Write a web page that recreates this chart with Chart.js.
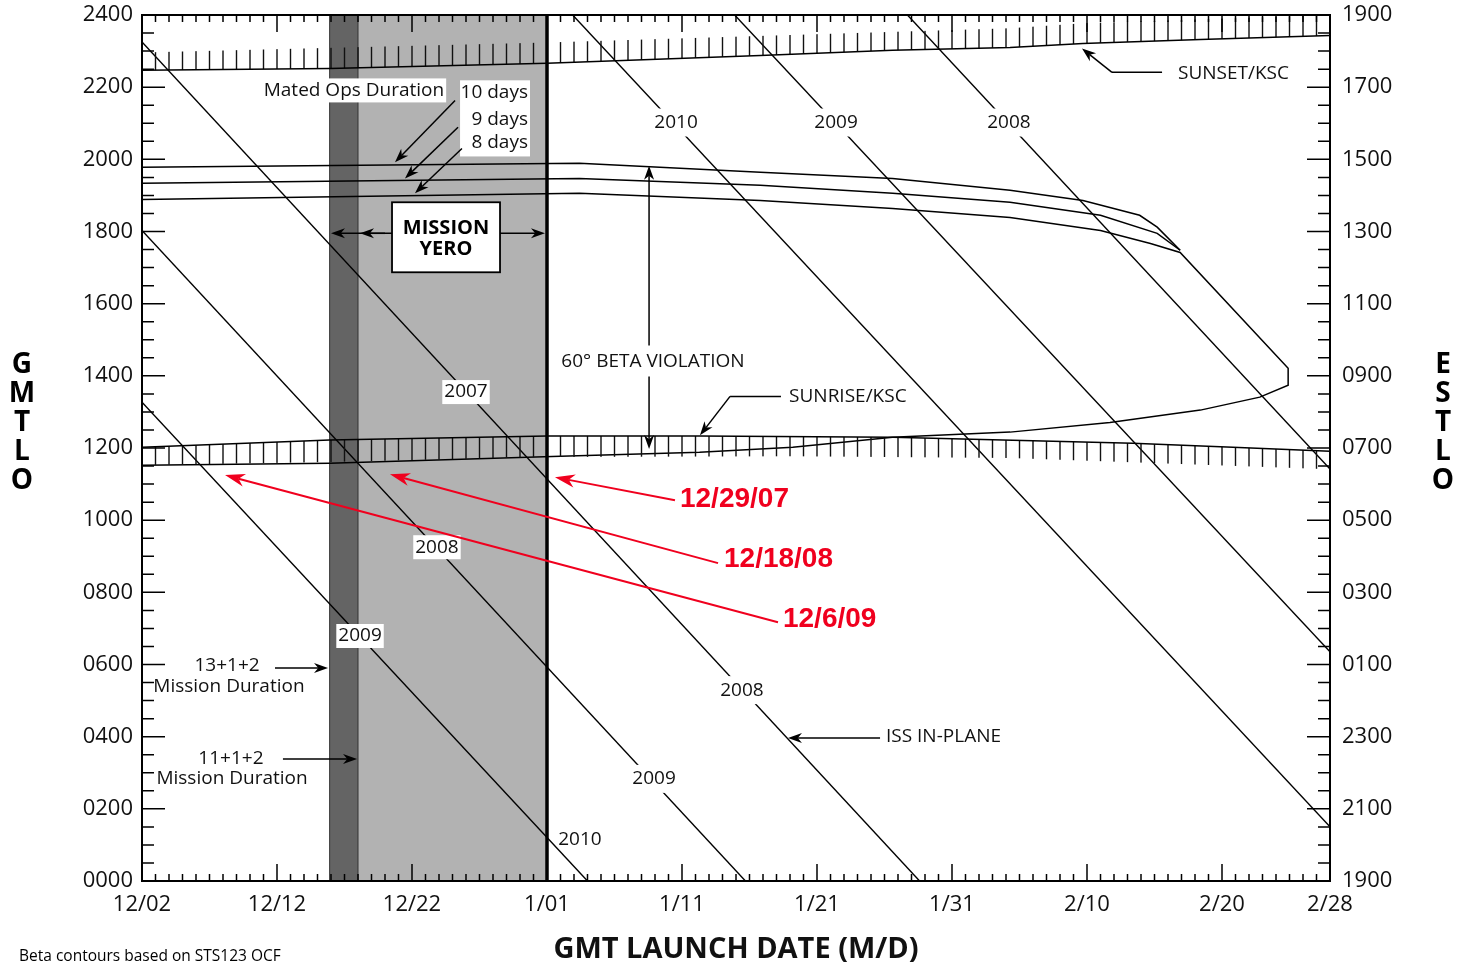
<!DOCTYPE html>
<html><head><meta charset="utf-8">
<script src="https://cdn.jsdelivr.net/npm/chart.js@4.4.1/dist/chart.umd.min.js"></script>
<style>html,body{margin:0;padding:0;background:#fff;}canvas{display:block;}</style>
</head><body>
<canvas id="c" width="1459" height="964"></canvas>
<script>
// ---------------- DATA (x = days after 12/02, y = GMT hour) ----------------
const xTickDays = [0, 10, 20, 30, 40, 50, 60, 70, 80, 88];
const xTickLabels = ['12/02', '12/12', '12/22', '1/01', '1/11', '1/21', '1/31', '2/10', '2/20', '2/28'];
const yTickHours = [0, 2, 4, 6, 8, 10, 12, 14, 16, 18, 20, 22, 24];
const gmtTickLabels = ['0000', '0200', '0400', '0600', '0800', '1000', '1200', '1400', '1600', '1800', '2000', '2200', '2400'];
const estTickLabels = ['1900', '2100', '2300', '0100', '0300', '0500', '0700', '0900', '1100', '1300', '1500', '1700', '1900'];

// ISS in-plane lines
const issLineA = [[0, 23.25], [57.6, 0]];
const issLineB = [[0, 18.03], [44.7, 0]];
const issLineC = [[0, 13.27], [33.0, 0]];
const issLineD = [[31.9, 24], [88, 1.5]];
const issLineE = [[43.9, 24], [88, 6.35]];
const issLineF = [[56.7, 24], [88, 11.42]];

// 60 deg beta contours (mated ops 10 / 9 / 8 days)
const beta10Days = [[0, 19.78], [32.4, 19.89], [45.8, 19.64], [55.6, 19.47], [64.3, 19.14], [69.7, 18.86], [73.9, 18.45], [75.2, 18.12], [76.9, 17.48]];
const beta9Days = [[0, 19.34], [32.4, 19.47], [45.8, 19.28], [55.6, 19.06], [64.3, 18.81], [71.0, 18.45], [75.2, 17.95], [76.9, 17.48]];
const beta8Days = [[0, 18.89], [32.4, 19.06], [45.8, 18.86], [55.6, 18.64], [64.3, 18.39], [71.0, 18.03], [74.7, 17.67], [76.9, 17.42],
  [84.9, 14.21], [84.9, 13.74], [82.8, 13.41], [78.4, 13.05], [71.7, 12.71], [64.3, 12.44], [55.6, 12.30], [48.2, 12.02],
  [41.3, 11.88], [31.0, 11.77], [13.9, 11.58], [0, 11.52]];

// KSC sunrise / sunset with hatch extent
const sunriseKSC = [[0, 12.02], [13.9, 12.22], [30, 12.33], [41.3, 12.33], [55.6, 12.30], [73.4, 12.13], [80.8, 12.02], [88, 11.91]];
const sunriseHatchEnd = [[0, 11.52], [13.9, 11.61], [30, 11.75], [48.2, 11.77], [64.3, 11.72], [88, 11.41]];
const sunsetKSC = [[0, 22.47], [13.9, 22.52], [30, 22.66], [45.8, 22.88], [55.6, 23.02], [64.3, 23.10], [69.7, 23.21], [78.4, 23.32], [88, 23.43]];
const sunsetHatchEnd = [[0, 22.96], [30, 23.24], [64.3, 23.63], [69.7, 23.77], [88, 24.0]];

// mission duration shading: [13+1+2 start, 11+1+2 start, window end]
const missionShade = [13.9, 16.0, 30.0];

// ---------------- STYLE / LAYOUT ----------------
const FONT = "'Open Sans', 'DejaVu Sans', sans-serif";
const RED = 'rgb(240,0,30)';
const canvas = document.getElementById('c');
const mainCtx = canvas.getContext('2d');

function hatchPattern() {
  const t = document.createElement('canvas');
  t.width = 27; t.height = 4;
  const g = t.getContext('2d');
  g.fillStyle = '#111';
  g.fillRect(6.3, 0, 1.4, 4);
  g.fillRect(19.8, 0, 1.4, 4);
  return mainCtx.createPattern(t, 'repeat');
}
const hatch = hatchPattern();
const xy = arr => arr.map(([x, y]) => ({x, y}));

function lineDs(arr, extra) {
  return Object.assign({
    data: xy(arr), borderColor: '#000', borderWidth: 1.5, pointRadius: 0, pointHoverRadius: 0,
    fill: false, tension: 0, backgroundColor: 'transparent'
  }, extra || {});
}

const datasets = [
  lineDs(sunsetKSC),                                                       // 0
  lineDs(sunsetHatchEnd, {borderWidth: 0, fill: 0, backgroundColor: hatch}),  // 1
  lineDs(sunriseKSC),                                                      // 2
  lineDs(sunriseHatchEnd, {borderWidth: 0, fill: 2, backgroundColor: hatch}), // 3
  lineDs(beta10Days), lineDs(beta9Days), lineDs(beta8Days),
  lineDs(issLineA, {borderWidth: 1.4}), lineDs(issLineB, {borderWidth: 1.4}), lineDs(issLineC, {borderWidth: 1.4}),
  lineDs(issLineD, {borderWidth: 1.4}), lineDs(issLineE, {borderWidth: 1.4}), lineDs(issLineF, {borderWidth: 1.4})
];

// annotation placement (data coordinates)
const plainNotes = [
  {t: 'Mated Ops Duration', d: 15.70, h: 21.91, align: 'center', bg: true},
  {t: '2007', d: 24.0, h: 13.55, align: 'center', bg: true},
  {t: '2008', d: 21.85, h: 9.25, align: 'center', bg: true},
  {t: '2009', d: 16.15, h: 6.79, align: 'center', bg: true},
  {t: '2010', d: 32.44, h: 1.14, align: 'center', bg: false},
  {t: '2008', d: 44.44, h: 5.29, align: 'center', bg: true, pad: 8},
  {t: '2009', d: 37.93, h: 2.83, align: 'center', bg: true, pad: 8},
  {t: '2010', d: 39.56, h: 21.02, align: 'center', bg: true, pad: 8},
  {t: '2009', d: 51.41, h: 21.02, align: 'center', bg: true, pad: 8},
  {t: '2008', d: 64.22, h: 21.02, align: 'center', bg: true, pad: 8},
  {t: '60° BETA VIOLATION', d: 37.85, h: 14.40, align: 'center', bg: false},
  {t: 'SUNRISE/KSC', d: 47.93, h: 13.43, align: 'left', bg: false},
  {t: 'SUNSET/KSC', d: 76.74, h: 22.38, align: 'left', bg: false},
  {t: 'ISS IN-PLANE', d: 55.11, h: 3.99, align: 'left', bg: false},
  {t: '13+1+2', d: 6.3, h: 5.96, align: 'center', bg: false},
  {t: 'Mission Duration', d: 6.44, h: 5.40, align: 'center', bg: false},
  {t: '11+1+2', d: 6.59, h: 3.38, align: 'center', bg: false},
  {t: 'Mission Duration', d: 6.67, h: 2.83, align: 'center', bg: false}
];
const dayNotes = [
  {t: '10 days', d: 28.59, h: 21.86}, {t: '9 days', d: 28.59, h: 21.11}, {t: '8 days', d: 28.59, h: 20.47}
];
const dayNotesBox = [23.56, 22.19, 28.74, 20.08];
const blackArrows = [
  [23.19, 21.63, 18.74, 19.92], [23.41, 20.89, 19.48, 19.47], [23.70, 20.30, 20.22, 19.06],
  [18.52, 17.95, 14.0, 17.95], [18.0, 17.95, 16.15, 17.95], [26.52, 17.95, 29.85, 17.95],
  [37.56, 14.84, 37.56, 19.82], [37.56, 13.98, 37.56, 11.97],
  [43.56, 13.43, 41.33, 12.35], [71.85, 22.41, 69.63, 23.07],
  [54.67, 3.96, 47.85, 3.96], [9.85, 5.90, 13.78, 5.90], [10.44, 3.38, 15.93, 3.38]
];
const leaderLines = [[47.33, 13.43, 43.56, 13.43], [75.56, 22.41, 71.85, 22.41]];
const missionBox = [18.52, 18.81, 26.52, 16.87];
const redNotes = [
  {t: '12/29/07', d: 39.85, h: 10.58, from: [39.48, 10.55], to: [30.59, 11.19]},
  {t: '12/18/08', d: 43.11, h: 8.92, from: [42.67, 8.81], to: [18.37, 11.27]},
  {t: '12/6/09', d: 47.48, h: 7.26, from: [47.11, 7.17], to: [6.15, 11.25]}
];

function arrow(ctx, x1, y1, x2, y2, color, lw, hl, hw) {
  const a = Math.atan2(y2 - y1, x2 - x1);
  ctx.strokeStyle = color; ctx.fillStyle = color; ctx.lineWidth = lw;
  ctx.beginPath(); ctx.moveTo(x1, y1);
  ctx.lineTo(x2 - Math.cos(a) * hl * 0.7, y2 - Math.sin(a) * hl * 0.7); ctx.stroke();
  ctx.beginPath(); ctx.moveTo(x2, y2);
  ctx.lineTo(x2 - Math.cos(a) * hl + Math.sin(a) * hw / 2, y2 - Math.sin(a) * hl - Math.cos(a) * hw / 2);
  ctx.lineTo(x2 - Math.cos(a) * hl * 0.7, y2 - Math.sin(a) * hl * 0.7);
  ctx.lineTo(x2 - Math.cos(a) * hl - Math.sin(a) * hw / 2, y2 - Math.sin(a) * hl + Math.cos(a) * hw / 2);
  ctx.closePath(); ctx.fill();
}

const shadePlugin = {
  id: 'shade',
  beforeDatasetsDraw(chart) {
    const ctx = chart.ctx, xs = chart.scales.x, {top, bottom} = chart.chartArea;
    const a = xs.getPixelForValue(missionShade[0]), b = xs.getPixelForValue(missionShade[1]), c = xs.getPixelForValue(missionShade[2]);
    ctx.save();
    ctx.fillStyle = '#646464'; ctx.fillRect(a, top, b - a, bottom - top);
    ctx.fillStyle = '#b2b2b2'; ctx.fillRect(b, top, c - b, bottom - top);
    ctx.strokeStyle = '#333'; ctx.lineWidth = 1;
    ctx.beginPath(); ctx.moveTo(a, top); ctx.lineTo(a, bottom); ctx.moveTo(b, top); ctx.lineTo(b, bottom); ctx.stroke();
    ctx.restore();
  },
  afterDatasetsDraw(chart) {
    const ctx = chart.ctx, xs = chart.scales.x, ys = chart.scales.y;
    const {left, right, top, bottom} = chart.chartArea;
    const X = d => xs.getPixelForValue(d), Y = h => ys.getPixelForValue(h);
    ctx.save();
    // window end line
    ctx.strokeStyle = '#000'; ctx.lineWidth = 3.5;
    ctx.beginPath(); ctx.moveTo(X(missionShade[2]), top); ctx.lineTo(X(missionShade[2]), bottom); ctx.stroke();
    // frame
    ctx.lineWidth = 2; ctx.strokeRect(left, top, right - left, bottom - top);
    // ticks
    ctx.lineWidth = 1.5; ctx.beginPath();
    for (let d = 0; d <= 88; d++) {
      const px = X(d), len = (d % 10 === 0) ? 17 : 7;
      ctx.moveTo(px, bottom); ctx.lineTo(px, bottom - len);
      ctx.moveTo(px, top); ctx.lineTo(px, top + len);
    }
    for (let k = 0; k <= 48; k++) {
      const py = Y(k / 2), len = (k % 4 === 0) ? 23 : 12;
      ctx.moveTo(left, py); ctx.lineTo(left + len, py);
      ctx.moveTo(right, py); ctx.lineTo(right - len, py);
    }
    ctx.stroke();

    // plain notes
    ctx.font = '19px ' + FONT; ctx.textBaseline = 'middle';
    plainNotes.forEach(n => {
      const px = X(n.d), py = Y(n.h);
      const w = ctx.measureText(n.t).width;
      const x0 = n.align === 'center' ? px - w / 2 : px;
      if (n.bg) {
        const p = n.pad || 2;
        ctx.fillStyle = '#fff'; ctx.fillRect(x0 - p, py - 12 - (p > 2 ? 2 : 0), w + 2 * p, 24 + (p > 2 ? 4 : 0));
      }
      ctx.fillStyle = '#111'; ctx.textAlign = 'left'; ctx.fillText(n.t, x0, py);
    });
    // day notes box
    ctx.fillStyle = '#fff';
    ctx.fillRect(X(dayNotesBox[0]), Y(dayNotesBox[1]), X(dayNotesBox[2]) - X(dayNotesBox[0]), Y(dayNotesBox[3]) - Y(dayNotesBox[1]));
    ctx.fillStyle = '#111'; ctx.textAlign = 'right';
    dayNotes.forEach(n => ctx.fillText(n.t, X(n.d), Y(n.h)));
    // mission box
    const bx = X(missionBox[0]), by = Y(missionBox[1]), bw = X(missionBox[2]) - bx, bh = Y(missionBox[3]) - by;
    ctx.fillStyle = '#fff'; ctx.fillRect(bx, by, bw, bh);
    ctx.strokeStyle = '#000'; ctx.lineWidth = 1.8; ctx.strokeRect(bx, by, bw, bh);
    ctx.fillStyle = '#000'; ctx.font = 'bold 20px ' + FONT; ctx.textAlign = 'center';
    ctx.fillText('MISSION', bx + bw / 2, by + 26);
    ctx.fillText('YERO', bx + bw / 2, by + 47);
    // leaders and arrows
    ctx.strokeStyle = '#000'; ctx.lineWidth = 1.5; ctx.beginPath();
    leaderLines.forEach(l => { ctx.moveTo(X(l[0]), Y(l[1])); ctx.lineTo(X(l[2]), Y(l[3])); });
    ctx.stroke();
    blackArrows.forEach(a => arrow(ctx, X(a[0]), Y(a[1]), X(a[2]), Y(a[3]), '#000', 1.5, 14, 10));
    // red notes
    ctx.font = "bold 28px 'Liberation Sans', Arial, sans-serif"; ctx.textAlign = 'left';
    redNotes.forEach(n => {
      arrow(ctx, X(n.from[0]), Y(n.from[1]), X(n.to[0]), Y(n.to[1]), RED, 2, 20, 13);
      ctx.fillStyle = RED; ctx.fillText(n.t, X(n.d), Y(n.h));
    });
    // vertical axis titles
    ctx.fillStyle = '#000'; ctx.font = 'bold 28px ' + FONT; ctx.textAlign = 'center';
    ['G', 'M', 'T', 'L', 'O'].forEach((c, i) => ctx.fillText(c, 22, 365 + i * 29));
    ['E', 'S', 'T', 'L', 'O'].forEach((c, i) => ctx.fillText(c, 1443, 365 + i * 29));
    // footnote
    ctx.font = '15.5px ' + FONT; ctx.textAlign = 'left';
    ctx.fillText('Beta contours based on STS123 OCF', 19, 957);
    ctx.restore();
  }
};

const tickFont = {family: FONT, size: 22, lineHeight: 1};
new Chart(mainCtx, {
  type: 'line',
  data: {datasets},
  options: {
    responsive: false, animation: false, events: [],
    layout: {padding: {top: 0, left: 0, right: 0, bottom: 0}},
    plugins: {legend: {display: false}, tooltip: {enabled: false}},
    scales: {
      x: {
        type: 'linear', min: 0, max: 88,
        afterBuildTicks: s => { s.ticks = xTickDays.map(v => ({value: v})); },
        afterFit: s => { s.height = 83; },
        grid: {display: false}, border: {display: false},
        ticks: {font: {family: FONT, size: 22}, color: '#111', padding: 3, maxRotation: 0, autoSkip: false,
          callback: v => xTickLabels[xTickDays.indexOf(v)]},
        title: {display: true, text: 'GMT LAUNCH DATE (M/D)', color: '#111',
          font: {family: FONT, size: 29, weight: 'bold', lineHeight: 1}, padding: {top: 0, bottom: 0}}
      },
      y: {
        type: 'linear', position: 'left', min: 0, max: 24,
        afterBuildTicks: s => { s.ticks = yTickHours.map(v => ({value: v})); },
        afterFit: s => { s.width = 142; },
        grid: {display: false}, border: {display: false},
        ticks: {font: tickFont, color: '#111', padding: 1,
          callback: v => gmtTickLabels[yTickHours.indexOf(v)]}
      },
      y2: {
        type: 'linear', position: 'right', min: 0, max: 24,
        afterBuildTicks: s => { s.ticks = yTickHours.map(v => ({value: v})); },
        afterFit: s => { s.width = 129; },
        grid: {display: false}, border: {display: false},
        ticks: {font: tickFont, color: '#111', padding: 4,
          callback: v => estTickLabels[yTickHours.indexOf(v)]}
      }
    }
  },
  plugins: [shadePlugin]
});
</script>
</body></html>
